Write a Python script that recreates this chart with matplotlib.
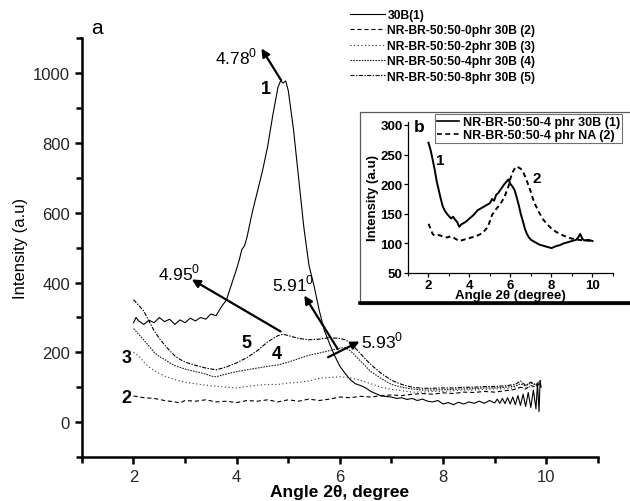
import matplotlib
matplotlib.use("Agg")
import matplotlib.pyplot as plt
from matplotlib.ticker import MultipleLocator, FixedLocator
from matplotlib.patches import Rectangle
from matplotlib.lines import Line2D

plt.rcParams['font.family'] = ['Liberation Sans', 'DejaVu Sans']
plt.rcParams['mathtext.fontset'] = 'custom'
plt.rcParams['mathtext.rm'] = 'Liberation Sans'
plt.rcParams['lines.scale_dashes'] = False

# ---- 主图 a 数据----
x1 = [2.0, 2.05, 2.1, 2.2, 2.3, 2.4, 2.5, 2.6, 2.7, 2.8, 2.9, 3.0, 3.1, 3.2, 3.3, 3.4,
      3.5, 3.6, 3.7, 3.8, 3.9, 4.0, 4.05, 4.1, 4.15, 4.2, 4.3, 4.4, 4.5, 4.6, 4.7, 4.8,
      4.85, 4.9, 4.95, 5.0, 5.1, 5.2, 5.3, 5.4, 5.5, 5.6, 5.7, 5.8, 5.9, 6.0, 6.1, 6.2,
      6.3, 6.4, 6.5, 6.6, 6.8, 7.0, 7.1, 7.2, 7.3, 7.4, 7.5, 7.6, 7.7, 7.8, 7.9, 8.0,
      8.1, 8.2, 8.3, 8.4, 8.5, 8.6, 8.7, 8.8, 8.9, 9.0, 9.05, 9.1, 9.15, 9.2, 9.25, 9.3,
      9.35, 9.4, 9.45, 9.5, 9.55, 9.6, 9.65, 9.7, 9.75, 9.8, 9.83, 9.86, 9.88, 9.9]
y1 = [285, 300, 290, 280, 292, 285, 300, 288, 295, 280, 293, 285, 298, 290, 300, 295,
      310, 305, 330, 350, 395, 440, 465, 495, 505, 530, 600, 660, 720, 790, 880, 960,
      978, 972, 978, 950, 840, 700, 560, 450, 390, 320, 262, 225, 190, 160, 140, 122,
      110, 105, 98, 88, 75, 72, 68, 70, 65, 68, 62, 66, 60, 58, 62, 52,
      56, 50, 57, 52, 58, 54, 60, 54, 62, 55, 66, 54, 68, 53, 70, 52,
      72, 50, 76, 48, 80, 45, 85, 42, 92, 38, 110, 30, 118, 100]

x2 = [2.0, 2.2, 2.4, 2.6, 2.8, 2.9, 3.0, 3.2, 3.4, 3.6, 3.8, 4.0, 4.2, 4.4, 4.6, 4.8,
      5.0, 5.2, 5.4, 5.6, 5.8, 6.0, 6.2, 6.4, 6.6, 6.8, 7.0, 7.2, 7.4, 7.6, 7.8, 8.0,
      8.2, 8.4, 8.6, 8.8, 9.0, 9.2, 9.4, 9.5, 9.6, 9.7, 9.8, 9.9]
y2 = [75, 70, 68, 62, 58, 55, 62, 60, 64, 58, 60, 56, 62, 60, 64, 58,
      64, 60, 66, 62, 66, 72, 70, 74, 72, 76, 78, 76, 80, 82, 80, 84,
      82, 86, 85, 88, 86, 90, 94, 100, 95, 105, 100, 115]

x3 = [2.0, 2.1, 2.2, 2.3, 2.4, 2.5, 2.6, 2.8, 3.0, 3.2, 3.4, 3.6, 3.8, 4.0, 4.2, 4.4,
      4.6, 4.8, 5.0, 5.2, 5.4, 5.6, 5.8, 6.0, 6.2, 6.4, 6.6, 6.8, 7.0, 7.2, 7.4, 7.6,
      7.8, 8.0, 8.2, 8.4, 8.6, 8.8, 9.0, 9.2, 9.4, 9.6, 9.8, 9.9]
y3 = [200, 190, 172, 158, 148, 140, 132, 122, 114, 110, 106, 103, 100, 98, 102, 106,
      108, 108, 112, 114, 118, 126, 128, 130, 127, 120, 110, 100, 94, 90, 86, 86,
      88, 88, 90, 92, 92, 94, 95, 96, 98, 100, 102, 110]

x4 = [2.0, 2.1, 2.2, 2.3, 2.4, 2.5, 2.6, 2.7, 2.8, 3.0, 3.2, 3.4, 3.5, 3.6, 3.8, 4.0,
      4.2, 4.4, 4.6, 4.8, 5.0, 5.2, 5.4, 5.6, 5.8, 6.0, 6.1, 6.2, 6.3, 6.4, 6.5, 6.6,
      6.8, 7.0, 7.2, 7.4, 7.6, 7.8, 8.0, 8.2, 8.4, 8.6, 8.8, 9.0, 9.2, 9.4, 9.5, 9.6,
      9.7, 9.8, 9.9]
y4 = [268, 252, 235, 218, 200, 188, 180, 170, 162, 152, 145, 138, 132, 130, 138, 145,
      150, 155, 160, 164, 172, 182, 192, 198, 205, 212, 214, 205, 190, 175, 160, 145,
      125, 108, 100, 95, 92, 92, 93, 94, 95, 96, 98, 98, 100, 103, 110, 104,
      112, 108, 120]

x5 = [2.0, 2.1, 2.2, 2.3, 2.4, 2.5, 2.6, 2.7, 2.8, 2.9, 3.0, 3.2, 3.4, 3.6, 3.8, 4.0,
      4.2, 4.4, 4.6, 4.8, 4.9, 5.0, 5.2, 5.4, 5.6, 5.8, 6.0, 6.1, 6.2, 6.3, 6.4, 6.5,
      6.6, 6.8, 7.0, 7.2, 7.4, 7.6, 7.8, 8.0, 8.2, 8.4, 8.6, 8.8, 9.0, 9.2, 9.4, 9.5,
      9.6, 9.7, 9.8, 9.9]
y5 = [351, 335, 318, 290, 262, 240, 222, 205, 190, 180, 172, 163, 155, 150, 158, 170,
      185, 205, 230, 248, 252, 248, 240, 236, 238, 242, 240, 236, 228, 212, 196, 180,
      165, 140, 120, 108, 100, 97, 97, 98, 98, 100, 100, 102, 102, 104, 108, 118,
      105, 115, 105, 122]

labels_a = ["30B(1)", "NR-BR-50:50-0phr 30B (2)", "NR-BR-50:50-2phr 30B (3)",
            "NR-BR-50:50-4phr 30B (4)", "NR-BR-50:50-8phr 30B (5)"]

# ---- 插图 b 数据 ----
xb1 = [2.0, 2.1, 2.2, 2.3, 2.4, 2.5, 2.6, 2.7, 2.8, 2.9, 3.0, 3.1, 3.2, 3.3, 3.4, 3.5,
       3.6, 3.7, 3.8, 4.0, 4.2, 4.4, 4.6, 4.8, 5.0, 5.1, 5.2, 5.3, 5.4, 5.5, 5.6, 5.7,
       5.8, 5.9, 6.0, 6.1, 6.2, 6.3, 6.4, 6.5, 6.6, 6.7, 6.8, 6.9, 7.0, 7.2, 7.4, 7.6,
       7.8, 8.0, 8.2, 8.4, 8.6, 8.8, 9.0, 9.2, 9.3, 9.4, 9.5, 9.6, 9.8, 10.0]
yb1 = [270, 258, 242, 225, 205, 190, 175, 162, 155, 150, 146, 142, 145, 140, 136, 128,
       132, 134, 136, 142, 148, 156, 160, 164, 168, 175, 172, 182, 185, 190, 195, 200,
       204, 208, 200, 196, 190, 178, 165, 150, 138, 125, 116, 110, 106, 102, 98, 96,
       94, 92, 95, 97, 100, 102, 104, 106, 110, 116, 108, 105, 106, 104]

xb2 = [2.0, 2.1, 2.2, 2.3, 2.5, 2.7, 2.9, 3.1, 3.3, 3.5, 3.7, 3.9, 4.1, 4.3, 4.5, 4.7,
       4.9, 5.0, 5.1, 5.3, 5.5, 5.7, 5.9, 6.0, 6.1, 6.2, 6.3, 6.4, 6.5, 6.6, 6.7, 6.8,
       6.9, 7.0, 7.1, 7.2, 7.4, 7.6, 7.8, 8.0, 8.2, 8.4, 8.6, 8.8, 9.0, 9.3, 9.6, 10.0]
yb2 = [133, 125, 116, 113, 114, 112, 110, 112, 108, 104, 106, 108, 110, 112, 115, 120,
       128, 138, 148, 158, 166, 178, 196, 210, 220, 226, 230, 228, 226, 222, 214, 205,
       196, 186, 175, 166, 152, 140, 132, 125, 120, 116, 113, 110, 108, 106, 105, 104]

labels_b = ["NR-BR-50:50-4 phr 30B (1)", "NR-BR-50:50-4 phr NA (2)"]

fig = plt.figure(figsize=(6.3, 5.02), dpi=100)
ax = fig.add_axes([0.130, 0.0876, 0.819, 0.834])

lw = 0.8
l1, = ax.plot(x1, y1, color="black", lw=lw)
l2, = ax.plot(x2, y2, color="black", lw=lw, dashes=(3, 2))
l3, = ax.plot(x3, y3, color="0.2", lw=lw, dashes=(0.8, 1.8))
l4, = ax.plot(x4, y4, color="0.15", lw=lw, dashes=(1.2, 0.8))
l5, = ax.plot(x5, y5, color="black", lw=lw, dashes=(3, 1, 1, 1))

ax.set_xlim(1, 11)
ax.set_ylim(-100, 1100)
ax.xaxis.set_major_locator(FixedLocator([2, 4, 6, 8, 10]))
ax.xaxis.set_minor_locator(MultipleLocator(1))
ax.yaxis.set_major_locator(FixedLocator([0, 200, 400, 600, 800, 1000]))
ax.yaxis.set_minor_locator(MultipleLocator(100))
for s in ["top", "right"]:
    ax.spines[s].set_visible(False)
for s in ["left", "bottom"]:
    ax.spines[s].set_linewidth(1.8)
ax.tick_params(which="major", direction="out", length=5, width=1.8, labelsize=12,
               labelcolor="0.15")
ax.tick_params(which="minor", direction="out", length=4, width=1.8)
ax.set_xlabel("Angle 2θ, degree", fontsize=12.5, fontweight="bold", labelpad=0)
ax.set_ylabel("Intensity (a.u)", fontsize=12, labelpad=4)

# 峰位箭头
arr = dict(arrowstyle="-|>", color="black", lw=1.6, mutation_scale=12, shrinkA=0, shrinkB=0)
ax.annotate("", xy=(4.48, 1071), xytext=(4.86, 980), arrowprops=arr)
ax.annotate("", xy=(3.13, 409), xytext=(4.85, 260), arrowprops=arr)
ax.annotate("", xy=(5.31, 363), xytext=(5.96, 209), arrowprops=arr)
ax.annotate("", xy=(6.38, 231), xytext=(5.77, 186), arrowprops=arr)

fs_pk = 12.5
ax.text(4.40, 1050, r"4.78$^{0}$", ha="right", va="center", fontsize=fs_pk)
ax.text(3.30, 430, r"4.95$^{0}$", ha="right", va="center", fontsize=fs_pk)
ax.text(5.50, 398, r"5.91$^{0}$", ha="right", va="center", fontsize=fs_pk)
ax.text(6.40, 235, r"5.93$^{0}$", ha="left", va="center", fontsize=fs_pk)

fs_n = 13
ax.text(4.56, 955, "1", ha="center", va="center", fontsize=fs_n, fontweight="bold")
ax.text(4.19, 228, "5", ha="center", va="center", fontsize=fs_n, fontweight="bold")
ax.text(4.77, 198, "4", ha="center", va="center", fontsize=fs_n, fontweight="bold")
ax.text(1.86, 186, "3", ha="center", va="center", fontsize=fs_n, fontweight="bold")
ax.text(1.86, 72, "2", ha="center", va="center", fontsize=fs_n, fontweight="bold")
ax.text(1.30, 1130, "a", ha="center", va="center", fontsize=15)

leg = ax.legend([l1, l2, l3, l4, l5], labels_a, loc="upper left",
                bbox_to_anchor=(0.546, 0.992), bbox_transform=fig.transFigure,
                frameon=False, handlelength=2.9, handletextpad=0.2,
                labelspacing=0.28, borderpad=0, prop={"weight": "bold", "size": 8.7})

# ---- 插图框 ----
fig.patches.append(Rectangle((0.571, 0.392), 0.44, 0.383, transform=fig.transFigure,
                             facecolor="white", edgecolor="0.35", lw=0.9, zorder=1))
fig.lines.append(Line2D([0.571, 1.0], [0.394, 0.394], transform=fig.transFigure,
                        color="black", lw=2.6, zorder=2))

axb = fig.add_axes([0.6476, 0.4542, 0.3254, 0.3008])
axb.set_zorder(5)
axb.patch.set_alpha(0)
axb.plot(xb1, yb1, color="black", lw=1.4)
axb.plot(xb2, yb2, color="black", lw=1.4, dashes=(3.5, 2.5))
axb.set_xlim(1, 11)
axb.set_ylim(50, 305)
axb.xaxis.set_major_locator(FixedLocator([2, 4, 6, 8, 10]))
axb.xaxis.set_minor_locator(MultipleLocator(1))
axb.yaxis.set_major_locator(MultipleLocator(50))
for s in ["top", "right"]:
    axb.spines[s].set_visible(False)
for s in ["left", "bottom"]:
    axb.spines[s].set_linewidth(0.9)
axb.tick_params(which="major", direction="out", length=3, width=0.9, labelsize=9.5, pad=1)
axb.tick_params(which="minor", direction="out", length=2, width=0.8)
for t in axb.get_xticklabels() + axb.get_yticklabels():
    t.set_fontweight("bold")
axb.set_xlabel("Angle 2θ (degree)", fontsize=9.5, fontweight="bold", labelpad=-1)
axb.set_ylabel("Intensity (a.u)", fontsize=9.5, fontweight="bold", labelpad=1)
axb.text(2.55, 240, "1", ha="center", va="center", fontsize=11, fontweight="bold")
axb.text(7.3, 210, "2", ha="center", va="center", fontsize=11, fontweight="bold")
axb.text(1.55, 298, "b", ha="center", va="center", fontsize=12.5, fontweight="bold")
hb = [Line2D([], [], color="black", lw=1.2), Line2D([], [], color="black", lw=1.2, dashes=(3.5, 2.5))]
lb = axb.legend(hb, labels_b, loc="upper right", bbox_to_anchor=(1.045, 1.05),
                frameon=True, fancybox=False, edgecolor="0.3", handlelength=1.8,
                handletextpad=0.3, labelspacing=0.05, borderpad=0.15, borderaxespad=0,
                prop={"weight": "bold", "size": 9})
lb.get_frame().set_linewidth(0.8)

fig.savefig("out.png", dpi=100)
